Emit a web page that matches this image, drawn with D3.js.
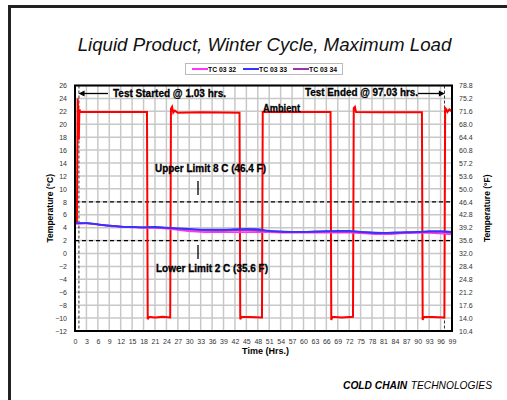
<!DOCTYPE html>
<html><head><meta charset="utf-8">
<script src="https://cdn.jsdelivr.net/npm/d3@7"></script>
<style>body{margin:0;background:#fff}svg{display:block}text{font-family:"Liberation Sans",Arial,sans-serif}</style>
</head><body>
<script>
// ---- data ----
const xTicks = d3.range(0, 100, 3);
const yTicksC = d3.range(-12, 27, 2);
const yTicksF = ["10.4","14.0","17.6","21.2","24.8","28.4","32.0","35.6","39.2","42.8","46.4","50.0","53.6","57.2","60.8","64.4","68.0","71.6","75.2","78.8"];
const seriesNames = ["TC 03 32","TC 03 33","TC 03 34"];
const seriesColors = ["#ff33ff","#3333ff","#9933aa"];
const hours = [0,3,6,9,12,15,18,21,24,27,30,33,36,39,42,45,48,51,54,57,60,63,66,69,72,75,78,81,84,87,90,93,96,99];
const tc0332 = [4.6,4.65,4.45,4.25,4.1,4.05,4.0,3.95,3.85,3.65,3.45,3.35,3.3,3.3,3.3,3.3,3.3,3.3,3.25,3.25,3.25,3.25,3.25,3.25,3.25,3.15,3.05,3.0,3.05,3.15,3.2,3.2,3.1,2.95];
const tc0333 = [4.7,4.7,4.5,4.3,4.15,4.1,4.05,4.1,4.0,3.9,3.8,3.7,3.7,3.7,3.75,3.8,3.75,3.5,3.4,3.35,3.35,3.4,3.45,3.5,3.5,3.35,3.25,3.2,3.25,3.3,3.35,3.45,3.45,3.35];
const tc0334 = [4.65,4.7,4.5,4.3,4.15,4.1,4.05,4.05,3.95,3.85,3.7,3.6,3.55,3.55,3.6,3.6,3.55,3.45,3.35,3.3,3.3,3.35,3.4,3.4,3.4,3.3,3.2,3.15,3.2,3.25,3.3,3.35,3.35,3.2];
const ambientHours = [0,0.5,0.7,0.9,1.0,1.15,1.4,6,12,18.9,19.1,19.4,21,23,25.0,25.2,25.5,25.8,26.2,27,33,43.2,43.4,43.7,46,49.1,49.3,55,61,67.1,67.3,67.6,70,73.0,73.2,73.5,73.8,80,86,91.1,91.3,91.6,94,97.0,97.2,97.5,97.8,98.3,99];
const ambientVals = [4.7,4.7,24.0,21.5,17.6,22.3,21.9,21.9,21.9,21.9,-10.2,-9.8,-9.9,-9.8,-9.9,22.4,22.7,21.8,22.1,21.8,21.85,21.8,-10.2,-9.8,-9.85,-9.9,21.9,21.9,21.9,21.9,-10.3,-9.8,-9.9,-9.8,22.5,22.7,21.9,21.85,21.85,21.85,-10.3,-9.8,-9.85,-9.9,22.5,22.3,21.9,22.3,22.0];
const testStart = 1.03, testEnd = 97.03, upperLimit = 8, lowerLimit = 2;

// ---- layout ----
const W = 507, H = 400;
const svg = d3.select("body").append("svg").attr("width", W).attr("height", H);
const x = d3.scaleLinear().domain([0, 99]).range([75, 452]);
const y = d3.scaleLinear().domain([-12, 26]).range([331, 85.5]);

// outer frame (left and top)
svg.append("path").attr("d", `M9.5,${H} V6.5 H${W}`).attr("fill","none").attr("stroke","#222").attr("stroke-width",3);

// title
svg.append("text").attr("x", 264.5).attr("y", 51).attr("text-anchor","middle")
  .style("font-style","italic").style("font-size","18.7px").attr("fill","#111")
  .text("Liquid Product, Winter Cycle, Maximum Load");

// legend
const lg = svg.append("g");
lg.append("rect").attr("x",185.5).attr("y",63.5).attr("width",157).attr("height",11).attr("fill","#fff").attr("stroke","#bbb");
const lgX = [192, 243, 293];
seriesNames.forEach((n,i)=>{
  lg.append("line").attr("x1",lgX[i]).attr("x2",lgX[i]+16).attr("y1",69).attr("y2",69).attr("stroke",seriesColors[i]).attr("stroke-width",2);
  lg.append("text").attr("x",lgX[i]+16).attr("y",71.5).style("font-size","6.8px").style("font-weight","bold").text(n);
});

// grid
const grid = svg.append("g").attr("stroke","#c8c8c8").attr("stroke-width",1.5);
xTicks.forEach(t=>grid.append("line").attr("x1",x(t)).attr("x2",x(t)).attr("y1",y(26)).attr("y2",y(-12)));
yTicksC.forEach(t=>grid.append("line").attr("x1",x(0)).attr("x2",x(99)).attr("y1",y(t)).attr("y2",y(t)));

// axes
const axL = svg.append("g").attr("transform",`translate(${x(0)},0)`).call(d3.axisLeft(y).tickValues(yTicksC).tickSize(0).tickPadding(8));
const axR = svg.append("g").attr("transform",`translate(${x(99)},0)`).call(d3.axisRight(y).tickValues(yTicksC).tickSize(0).tickPadding(7).tickFormat((d,i)=>yTicksF[i]));
const axB = svg.append("g").attr("transform",`translate(0,${y(-12)})`).call(d3.axisBottom(x).tickValues(xTicks).tickSize(0).tickPadding(8));
[axL,axR,axB].forEach(a=>{a.select(".domain").remove();a.selectAll("text").style("font-size","7px").attr("fill","#333").style("font-family","'Liberation Sans',Arial,sans-serif");});

// limit lines
[upperLimit, lowerLimit].forEach(v=>svg.append("line").attr("x1",x(0)).attr("x2",x(99)).attr("y1",y(v)).attr("y2",y(v))
  .attr("stroke","#000").attr("stroke-width",1.2).attr("stroke-dasharray","4,3"));
// test start / end lines
[testStart, testEnd].forEach(v=>svg.append("line").attr("x1",x(v)).attr("x2",x(v)).attr("y1",y(26)).attr("y2",y(-12))
  .attr("stroke","#000").attr("stroke-width",0.8).attr("stroke-dasharray","3,2"));

// series
const line = d3.line().x(d=>x(d[0])).y(d=>y(d[1]));
svg.append("path").datum(ambientHours.map((h,i)=>[h,ambientVals[i]])).attr("d",line).attr("fill","none").attr("stroke","#ff0000").attr("stroke-width",2);
[tc0332, tc0334, tc0333].forEach((s,k)=>{
  const col = [seriesColors[0], seriesColors[2], seriesColors[1]][k];
  svg.append("path").datum(hours.map((h,i)=>[h,s[i]])).attr("d",d3.line().curve(d3.curveMonotoneX).x(d=>x(d[0])).y(d=>y(d[1])))
    .attr("fill","none").attr("stroke",col).attr("stroke-width",1.8);
});

// plot border
svg.append("rect").attr("x",x(0)).attr("y",y(26)).attr("width",x(99)-x(0)).attr("height",y(-12)-y(26))
  .attr("fill","none").attr("stroke","#000").attr("stroke-width",2);

// annotations
function note(tx,ty,t,anchor,len){const n=svg.append("text").attr("x",tx).attr("y",ty).attr("text-anchor",anchor||"start")
  .style("font-size","10px").style("font-weight","bold").attr("fill","#000").attr("stroke","#000").attr("stroke-width",0.3).text(t);
  if(len) n.attr("textLength",len).attr("lengthAdjust","spacingAndGlyphs");}
note(113,97,"Test Started @ 1.03 hrs.","start",113);
note(418,96,"Test Ended @ 97.03 hrs.","end",113);
note(263,112,"Ambient","start",37);
note(155,172,"Upper Limit 8 C (46.4 F)","start",111);
note(156,272,"Lower Limit 2 C (35.6 F)","start",112);
const arr = svg.append("g").attr("stroke","#000").attr("stroke-width",1.3);
arr.append("line").attr("x1",108).attr("x2",x(testStart)+3).attr("y1",93.5).attr("y2",93.5);
arr.append("path").attr("d",`M${x(testStart)+1},93.5 l4,-2 v4 z`).attr("fill","#000");
arr.append("line").attr("x1",418).attr("x2",x(testEnd)-3).attr("y1",93.5).attr("y2",93.5);
arr.append("path").attr("d",`M${x(testEnd)-1},93.5 l-4,-2 v4 z`).attr("fill","#000");
arr.append("line").attr("x1",198).attr("x2",198).attr("y1",181).attr("y2",195);
arr.append("line").attr("x1",198).attr("x2",198).attr("y1",245).attr("y2",259);

// axis titles
svg.append("text").attr("transform",`translate(53,${(y(26)+y(-12))/2}) rotate(-90)`).attr("text-anchor","middle")
  .style("font-size","8.5px").style("font-weight","bold").text("Temperature (°C)");
svg.append("text").attr("transform",`translate(490,${(y(26)+y(-12))/2}) rotate(-90)`).attr("text-anchor","middle")
  .style("font-size","8.5px").style("font-weight","bold").text("Temperature (°F)");
svg.append("text").attr("x",265.5).attr("y",354).attr("text-anchor","middle")
  .style("font-size","9px").style("font-weight","bold").text("Time (Hrs.)");

// footer logo text
const ft = svg.append("text").attr("x",343).attr("y",389).style("font-size","11.5px").style("font-style","italic")
  .attr("textLength",149).attr("lengthAdjust","spacingAndGlyphs");
ft.append("tspan").style("font-weight","bold").text("COLD CHAIN");
ft.append("tspan").attr("dx",4).text("TECHNOLOGIES");
</script>
</body></html>
